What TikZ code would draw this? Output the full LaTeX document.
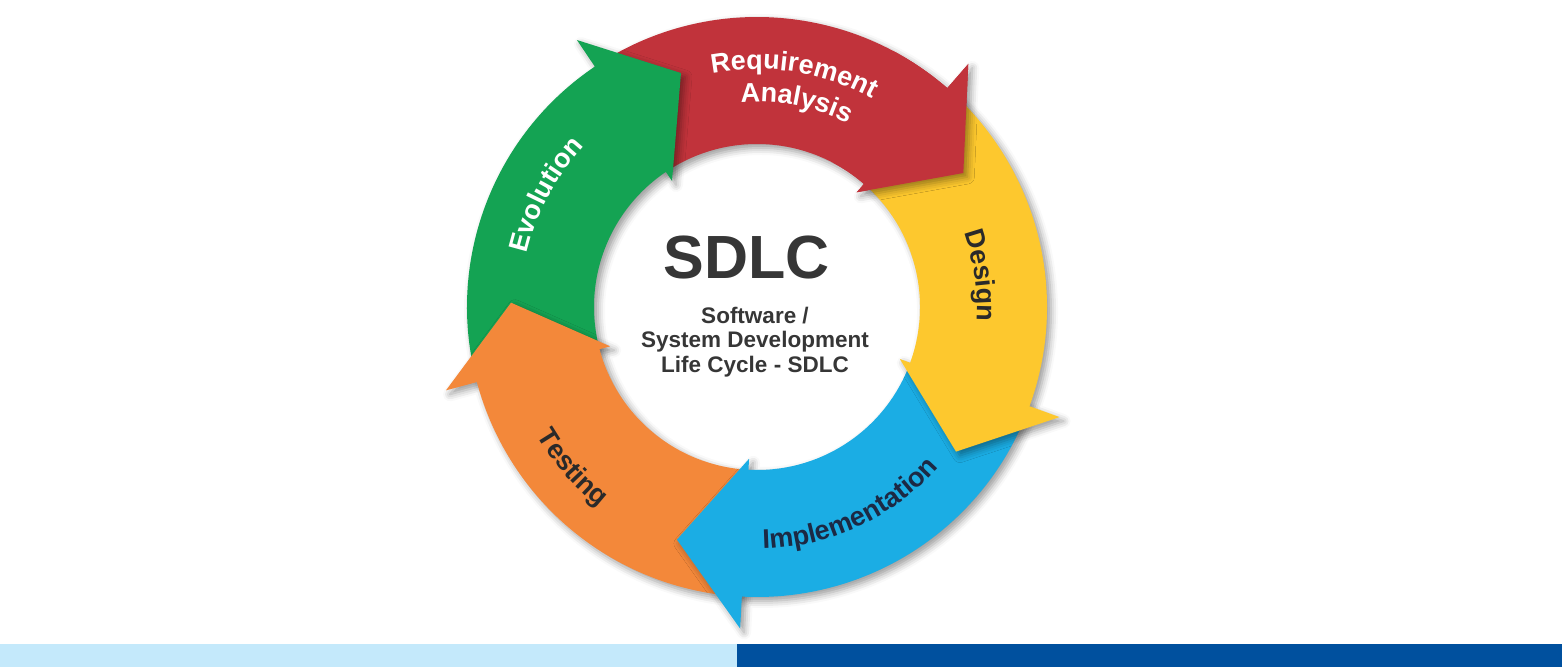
\documentclass[tikz,border=0pt]{standalone}
\usepackage{fontspec}
\setmainfont{Liberation Sans}
\usetikzlibrary{decorations.text,shadows.blur}

\definecolor{reqred}{HTML}{C1333B}
\definecolor{desyellow}{HTML}{FDC82E}
\definecolor{implblue}{HTML}{1BADE4}
\definecolor{testorange}{HTML}{F3883A}
\definecolor{evogreen}{HTML}{14A353}
\definecolor{sdlcgray}{HTML}{363636}
\definecolor{darktext}{HTML}{2A2A2A}
\definecolor{impltext}{HTML}{1C2944}
\definecolor{bandlight}{HTML}{C4E9FB}
\definecolor{banddark}{HTML}{00509E}

\newcommand\ringfont{\fontsize{27}{27}\selectfont\bfseries}

\begin{document}
\begin{tikzpicture}[x=1pt, y=1pt,
    arrowshadow/.style={blur shadow={shadow xshift=4pt, shadow yshift=-4pt,
                        shadow blur radius=7pt, shadow opacity=40}},
    ringlabel/.style={decorate, decoration={text along path, text align=center,
                      text color=#1}}]
  \useasboundingbox (0,0) rectangle (1562,667);
  \begin{scope}[shift={(757,360)}]
    %% the five curved arrows (tail starts at the barb line of the previous one)
    \foreach \s/\b/\col in {124/49/reqred, -165/-236/evogreen, -93/-165/testorange,
                            -20/-93/implblue, 49/-20/desyellow}
      \path[fill=\col, arrowshadow] (\s:290) arc[start angle=\s, end angle=\b, radius=290]
        -- (\b:322) -- ({\b-16}:246) -- (\b:152) -- (\b:163)
        arc[start angle=\b, end angle=\s, radius=163] -- cycle;
    %% red head again, over the yellow tail
    \begin{scope}
      \clip (0,0) -- (62:420) arc[start angle=62, end angle=18, radius=420] -- cycle;
      \begin{scope}
        \clip (49:290) arc[start angle=49, end angle=18, radius=290]
          -- (18:163) arc[start angle=18, end angle=49, radius=163] -- cycle;
        \path[arrowshadow] (49:322) -- (33:246) -- (49:152) -- cycle;
      \end{scope}
      \path[fill=reqred] (124:290) arc[start angle=124, end angle=49, radius=290]
        -- (49:322) -- (33:246) -- (49:152) -- (49:163)
        arc[start angle=49, end angle=124, radius=163] -- cycle;
    \end{scope}
    %% labels along the ring
    \path[ringlabel=white, decoration={text={|\ringfont|Requirement}}]
      (121:238) arc[start angle=121, end angle=41, radius=238];
    \path[ringlabel=white, decoration={text={|\ringfont|Analysis}}]
      (119:205) arc[start angle=119, end angle=39, radius=205];
    \path[ringlabel=darktext, decoration={text={|\ringfont|Design}}]
      (48:220) arc[start angle=48, end angle=-32, radius=220];
    \path[ringlabel=impltext, decoration={text={|\ringfont|Implementation}}]
      (255:242) arc[start angle=255, end angle=335, radius=242];
    \path[ringlabel=darktext, decoration={text={|\ringfont|Testing}}]
      (181:255) arc[start angle=181, end angle=261, radius=255];
    \path[ringlabel=white, decoration={text={|\ringfont|Evolution}}]
      (192:236) arc[start angle=192, end angle=112, radius=236];
    %% centre
    \node[font=\fontsize{61}{61}\selectfont\bfseries, text=sdlcgray] (sdlc) at (-10,49) {SDLC};
    \node[font=\fontsize{22.5}{24.5}\selectfont\bfseries, text=sdlcgray, align=center]
      (subtitle) at (-2,-35) {Software /\\System Development\\Life Cycle - SDLC};
  \end{scope}
  %% footer bars
  \fill[bandlight] (0,0) rectangle (737,23);
  \fill[banddark] (737,0) rectangle (1562,23);
\end{tikzpicture}
\end{document}
